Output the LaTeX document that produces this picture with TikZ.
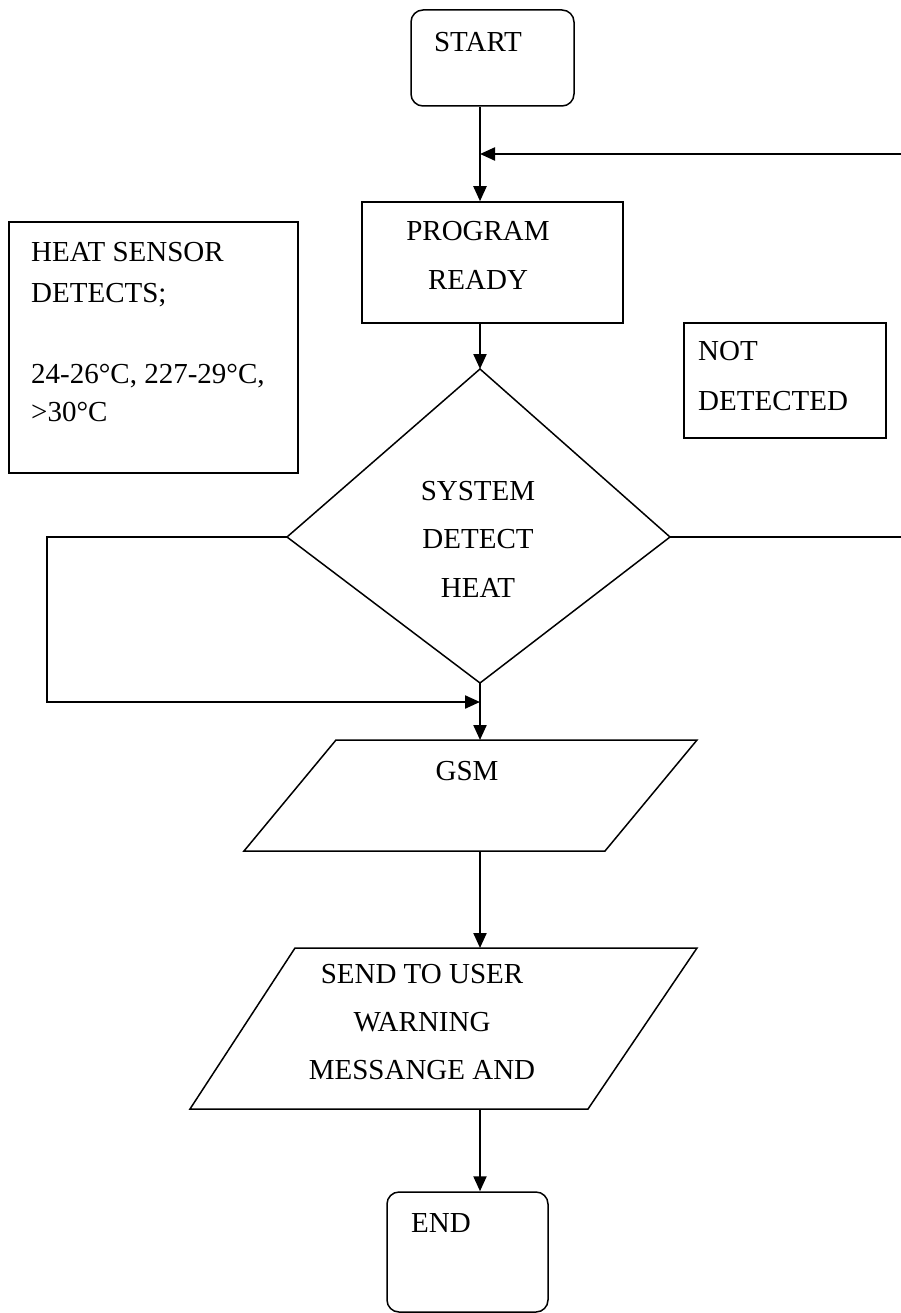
\documentclass[tikz,border=0pt]{standalone}
\usepackage{fontspec}
\setmainfont{Liberation Serif}
\usetikzlibrary{arrows.meta}
\begin{document}
\begin{tikzpicture}[x=1pt,y=-1pt,
  font=\fontsize{29}{35}\selectfont,
  box/.style={draw, line width=1.5pt, inner sep=0pt},
  plain/.style={line width=1.5pt},
  conn/.style={line width=2.2pt, -{Triangle[length=15pt,width=13pt]}},
  txt/.style={inner sep=0pt, anchor=base},
  txtl/.style={inner sep=0pt, anchor=base west}]
\useasboundingbox (0,0) rectangle (901,1313);

% boxes
\node[box, rounded corners=12pt, minimum width=163pt, minimum height=96pt] (start) at (492.5,58) {};
\node[box, minimum width=261pt, minimum height=121pt] (program) at (492.5,262.5) {};
\node[box, minimum width=202pt, minimum height=115pt] (notdet) at (785,380.5) {};
\node[box, minimum width=289pt, minimum height=251pt] (sensor) at (153.5,347.5) {};
\node[box, rounded corners=12pt, minimum width=161pt, minimum height=120pt] (endb) at (467.5,1252) {};

% diamond
\coordinate (dT) at (480,369);
\coordinate (dR) at (670,537);
\coordinate (dB) at (480,683);
\coordinate (dL) at (287,537);
\draw[plain] (dT) -- (dR) -- (dB) -- (dL) -- cycle;

% GSM parallelogram
\coordinate (g1) at (336,740);
\coordinate (g2) at (697,740);
\coordinate (g3) at (605,851);
\coordinate (g4) at (244,851);
\draw[plain] (g1) -- (g2) -- (g3) -- (g4) -- cycle;

% SEND parallelogram
\coordinate (s1) at (295,948);
\coordinate (s2) at (697,948);
\coordinate (s3) at (588,1109);
\coordinate (s4) at (190,1109);
\draw[plain] (s1) -- (s2) -- (s3) -- (s4) -- cycle;

% texts
\node[txt] (tstart) at (478,52) {START};
\node[txt] (tprog1) at (478,241) {PROGRAM};
\node[txt] (tprog2) at (478,290) {READY};
\node[txtl] (tnot1) at (698,360) {NOT};
\node[txtl] (tnot2) at (698,410) {DETECTED};
\node[txtl] (tsen1) at (31,262) {HEAT SENSOR};
\node[txtl] (tsen2) at (31,302) {DETECTS;};
\node[txtl] (tsen3) at (31,383) {24-26°C, 227-29°C,};
\node[txtl] (tsen4) at (31,421) {>30°C};
\node[txt] (tdia1) at (478,500) {SYSTEM};
\node[txt] (tdia2) at (478,548) {DETECT};
\node[txt] (tdia3) at (478,597) {HEAT};
\node[txt] (tgsm) at (467,780) {GSM};
\node[txt] (tsend1) at (422,983) {SEND TO USER};
\node[txt] (tsend2) at (422,1031) {WARNING};
\node[txt] (tsend3) at (422,1079) {MESSANGE AND};
\node[txt] (tend) at (441,1232) {END};

% connectors
\coordinate (fbR) at (901,154);
\coordinate (rEnd) at (901,537);
\coordinate (lC) at (47,537);
\coordinate (lB) at (47,702);
\draw[conn] (start.south -| dT) -- (program.north -| dT);
\draw[conn] (fbR) -- (fbR -| dT);
\draw[conn] (program.south -| dT) -- (dT);
\draw[plain] (dR) -- (rEnd);
\draw[conn] (dL) -- (lC) -- (lB) -- (lB -| dT);
\draw[conn] (dB) -- (dB |- g1);
\draw[conn] (dB |- g3) -- (dB |- s1);
\draw[conn] (dB |- s3) -- (endb.north -| dB);
\end{tikzpicture}
\end{document}
